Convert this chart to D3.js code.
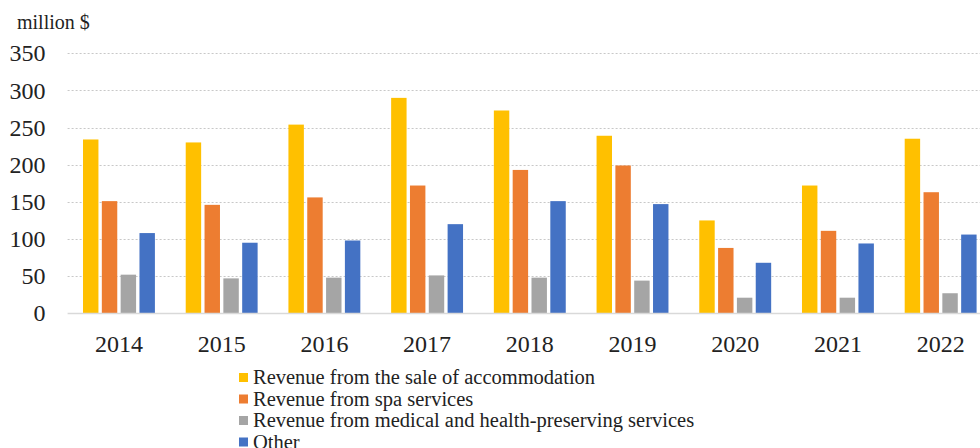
<!DOCTYPE html>
<html lang="en">
<head>
<meta charset="utf-8">
<title>Revenue chart</title>
<script src="https://cdn.jsdelivr.net/npm/d3@7"></script>
<style>
  body { margin: 0; background: #fff; }
  svg { display: block; font-family: "Liberation Serif", "Times New Roman", serif; }
</style>
</head>
<body>
<script>
// data
var years = ["2014", "2015", "2016", "2017", "2018", "2019", "2020", "2021", "2022"];
var seriesNames = [
  "Revenue from the sale of accommodation",
  "Revenue from spa services",
  "Revenue from medical and health-preserving services",
  "Other"
];
var accommodation = [234, 230, 254, 290, 273, 239, 125, 172, 235];
var spa           = [151, 146, 156, 172, 193, 199, 88, 111, 163];
var medical       = [52, 47, 48, 51, 48, 44, 21, 21, 27];
var other         = [108, 95, 98, 120, 151, 147, 68, 94, 106];
var yTicks = [0, 50, 100, 150, 200, 250, 300, 350];
var colors = ["#FFC000", "#ED7D31", "#A5A5A5", "#4472C4"];

var w = 980, h = 448;
var plotLeft = 67.6, plotRight = 992, plotTop = 53.3, plotBottom = 313.3;

var allSeries = [accommodation, spa, medical, other];
var rows = years.map(function(yr, i) {
  return { year: yr, values: allSeries.map(function(s, k) { return { key: k, v: s[i] }; }) };
});

var svg = d3.select("body").append("svg")
  .attr("width", w)
  .attr("height", h);

var x0 = d3.scaleBand()
  .domain(years)
  .range([plotLeft, plotRight])
  .paddingInner(0.3)
  .paddingOuter(0.15);

var x1 = d3.scaleBand()
  .domain([0, 1, 2, 3])
  .range([0, x0.bandwidth()])
  .paddingInner(0.18);

var y = d3.scaleLinear()
  .domain([0, 350])
  .range([plotBottom, plotTop]);

// gridlines
svg.append("g")
  .selectAll("line")
  .data(yTicks.filter(function(d) { return d > 0; }))
  .enter()
  .append("line")
  .attr("x1", plotLeft)
  .attr("x2", w)
  .attr("y1", function(d) { return Math.round(y(d)) + 0.5; })
  .attr("y2", function(d) { return Math.round(y(d)) + 0.5; })
  .attr("stroke", "#c8c8c8")
  .attr("stroke-width", 1.2)
  .attr("stroke-dasharray", "2,2");

// y axis labels
var yAxis = svg.append("g")
  .attr("transform", "translate(" + plotLeft + ",0)")
  .call(d3.axisLeft(y).tickValues(yTicks).tickSize(0).tickPadding(22));
yAxis.select(".domain").remove();
yAxis.selectAll("text")
  .attr("font-family", "Liberation Serif")
  .attr("font-size", "24px")
  .attr("fill", "#222");

// bars
var groups = svg.append("g")
  .selectAll("g")
  .data(rows)
  .enter()
  .append("g")
  .attr("transform", function(d) { return "translate(" + x0(d.year) + ",0)"; });

groups.selectAll("rect")
  .data(function(d) { return d.values; })
  .enter()
  .append("rect")
  .attr("x", function(d) { return x1(d.key); })
  .attr("y", function(d) { return y(d.v); })
  .attr("width", x1.bandwidth())
  .attr("height", function(d) { return y(0) - y(d.v); })
  .attr("fill", function(d) { return colors[d.key]; });

// baseline
svg.append("line")
  .attr("x1", plotLeft)
  .attr("x2", w)
  .attr("y1", Math.round(y(0)) + 0.5)
  .attr("y2", Math.round(y(0)) + 0.5)
  .attr("stroke", "#d9d9d9")
  .attr("stroke-width", 1.5);

// x axis labels
var xAxis = svg.append("g")
  .attr("transform", "translate(0," + y(0) + ")")
  .call(d3.axisBottom(x0).tickSize(0).tickPadding(22));
xAxis.select(".domain").remove();
xAxis.selectAll("text")
  .attr("font-family", "Liberation Serif")
  .attr("font-size", "24px")
  .attr("fill", "#222");

// unit label
svg.append("text")
  .attr("x", 17)
  .attr("y", 29)
  .attr("font-size", "20px")
  .attr("fill", "#222")
  .text("million $");

// legend
var legend = svg.append("g")
  .selectAll("g")
  .data(seriesNames)
  .enter()
  .append("g")
  .attr("transform", function(d, i) { return "translate(239," + (373 + i * 21.5) + ")"; });

legend.append("rect")
  .attr("width", 9)
  .attr("height", 9)
  .attr("fill", function(d, i) { return colors[i]; });

legend.append("text")
  .attr("x", 14)
  .attr("y", 11)
  .attr("font-size", "20.5px")
  .attr("fill", "#222")
  .text(function(d) { return d; });
</script>
</body>
</html>
